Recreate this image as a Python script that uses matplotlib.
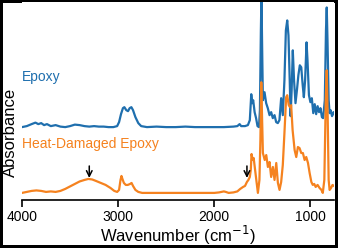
import matplotlib
matplotlib.use("Agg")
import matplotlib.pyplot as plt

plt.rcParams["font.family"] = ["Liberation Sans", "DejaVu Sans"]

# Epoxy spectrum (wavenumber, absorbance in arbitrary units)
epoxy_wn = [4000, 3950, 3900, 3860, 3830, 3800, 3770, 3740, 3700, 3650,
            3600, 3550, 3500, 3450, 3400, 3350, 3300, 3250, 3200, 3150,
            3100, 3050, 3010, 2990, 2970, 2950, 2935, 2915, 2897, 2880,
            2862, 2845, 2820, 2790, 2760, 2700, 2600, 2500, 2400, 2300,
            2200, 2100, 2000, 1900, 1800, 1760, 1736, 1720, 1680, 1650,
            1630, 1615, 1605, 1595, 1580, 1565, 1550, 1535, 1525, 1515,
            1509, 1500, 1494, 1477, 1460, 1443, 1425, 1408, 1391, 1373,
            1356, 1339, 1322, 1304, 1287, 1270, 1255, 1241, 1228, 1215,
            1206, 1195, 1183, 1170, 1155, 1140, 1125, 1110, 1095, 1080,
            1068, 1055, 1040, 1030, 1015, 1000, 985, 970, 955, 940,
            925, 910, 895, 880, 868, 850, 838, 830, 822, 810,
            800, 790, 775, 760, 750]
epoxy_abs = [73, 74, 76, 77.5, 76, 77, 75, 76, 74, 75,
             73.5, 73, 74, 75.5, 75, 74, 73.5, 74, 73.5, 73.5,
             73, 73, 74, 78, 86, 92, 93, 90, 89, 92,
             93, 90, 83, 77, 74, 73, 73.5, 73, 73, 73.5,
             73, 73, 73, 73, 73.5, 74, 76, 74, 74, 75,
             80, 106, 97, 100, 88, 82, 74, 73, 90, 170,
             205, 140, 100, 108, 97, 92, 85, 88, 82, 85,
             78, 77, 80, 102, 85, 120, 170, 180, 165, 120,
             84, 110, 150, 120, 97, 110, 125, 135, 133, 115,
             103, 120, 158, 140, 105, 98, 102, 87, 96, 86,
             94, 88, 92, 83, 82, 100, 170, 193, 160, 100,
             87, 90, 84, 88, 86]

# Heat-damaged epoxy spectrum
damaged_wn = [4000, 3950, 3900, 3850, 3800, 3750, 3700, 3650, 3600, 3550,
              3500, 3450, 3400, 3350, 3310, 3270, 3230, 3180, 3130, 3080,
              3040, 3010, 2990, 2975, 2965, 2955, 2940, 2920, 2900, 2875,
              2860, 2845, 2820, 2790, 2750, 2600, 2400, 2200, 2000, 1950,
              1900, 1880, 1850, 1800, 1760, 1730, 1700, 1680, 1660, 1645,
              1630, 1620, 1612, 1600, 1590, 1575, 1560, 1546, 1530, 1520,
              1511, 1502, 1494, 1475, 1459, 1442, 1425, 1408, 1390, 1373,
              1355, 1338, 1321, 1304, 1287, 1270, 1252, 1241, 1225, 1212,
              1200, 1185, 1164, 1147, 1130, 1113, 1095, 1078, 1060, 1043,
              1025, 1008, 990, 975, 960, 945, 925, 905, 885, 871,
              855, 840, 830, 820, 810, 800, 785, 770, 755]
damaged_abs = [7, 8, 9, 9.5, 9, 8, 8.5, 8, 9, 11,
               13.5, 16, 18.5, 20, 21, 20.5, 19, 17, 15, 12,
               9, 8, 10, 20, 24, 21, 17, 15, 15, 16,
               17, 14, 10, 8, 7, 7, 7, 7, 7, 7.5,
               8.5, 8, 7, 7.5, 8.5, 11, 13, 14, 18, 20,
               23, 30, 46, 40, 42, 30, 18, 7, 20, 60,
               118, 80, 47, 40, 45, 33, 38, 23, 33, 20,
               37, 17, 10, 18, 35, 67, 103, 105, 95, 93,
               95, 70, 50, 43, 53, 52, 47, 47, 40, 43,
               37, 27, 18, 15, 16, 13, 15, 12, 10, 7,
               20, 100, 130, 83, 20, 10, 12, 15, 14]

arrow_wn = [3300, 1660]
arrow_top = [34, 34]
arrow_tip = [22, 22]

blue = "#1f6fae"
orange = "#f5821f"

fig, ax = plt.subplots(figsize=(3.38, 2.48), dpi=100)
fig.subplots_adjust(left=0.065, right=0.988, bottom=0.194, top=0.99)

ax.plot(epoxy_wn, epoxy_abs, color=blue, lw=1.6)
ax.plot(damaged_wn, damaged_abs, color=orange, lw=1.6)

for w, y0, y1 in zip(arrow_wn, arrow_top, arrow_tip):
    ax.annotate("", xy=(w, y1), xytext=(w, y0),
                arrowprops=dict(arrowstyle="->", color="black", lw=1.1,
                                shrinkA=0, shrinkB=0))

ax.text(4000, 123, "Epoxy", color=blue, fontsize=10, va="center", ha="left")
ax.text(4000, 56, "Heat-Damaged Epoxy", color=orange, fontsize=10,
        va="center", ha="left")

ax.set_xlim(4000, 755)
ax.set_ylim(0, 198)
ax.set_xticks([4000, 3000, 2000, 1000])
ax.set_yticks([])
ax.tick_params(axis="x", labelsize=10, length=5, width=1.2, pad=2)
for side in ["left", "right", "top"]:
    ax.spines[side].set_visible(False)
ax.spines["bottom"].set_linewidth(1.2)

ax.set_xlabel("Wavenumber (cm$^{-1}$)", fontsize=12, labelpad=0)
ax.set_ylabel("Absorbance", fontsize=12)
ax.yaxis.set_label_coords(-0.012, 0.34)

fig.patch.set_edgecolor("black")
fig.patch.set_linewidth(3)
fig.savefig("out.png", dpi=100, edgecolor=fig.get_edgecolor())
